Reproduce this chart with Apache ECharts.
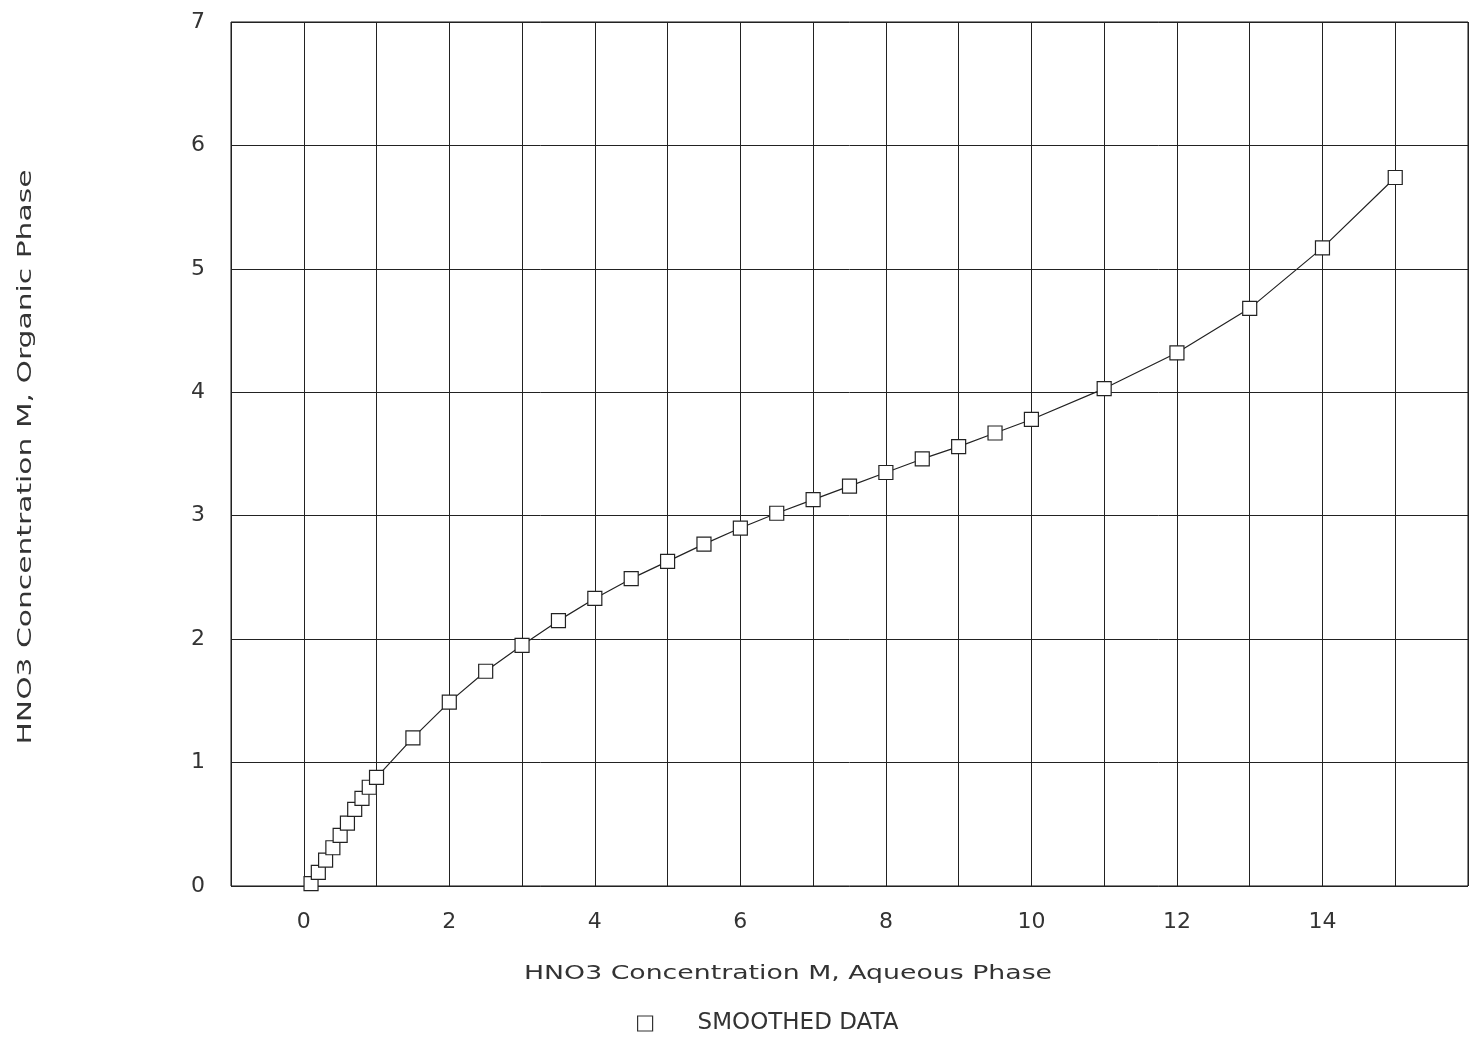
<!DOCTYPE html>
<html>
<head>
<meta charset="utf-8">
<script src="https://cdn.jsdelivr.net/npm/echarts@6/dist/echarts.min.js"></script>
<style>html,body{margin:0;padding:0;background:#fff}#c{width:1480px;height:1037px}</style>
</head>
<body>
<div id="c"></div>
<script>
const xValues = [0.1,0.2,0.3,0.4,0.5,0.6,0.7,0.8,0.9,1.0,1.5,2,2.5,3,3.5,4,4.5,5,5.5,6,6.5,7,7.5,8,8.5,9,9.5,10,11,12,13,14,15];
const yValues = [0.02,0.11,0.21,0.31,0.41,0.51,0.62,0.71,0.80,0.88,1.20,1.49,1.74,1.95,2.15,2.33,2.49,2.63,2.77,2.90,3.02,3.13,3.24,3.35,3.46,3.56,3.67,3.78,4.03,4.32,4.68,5.17,5.74];
const xTickLabels = [0,2,4,6,8,10,12,14];
const seriesName = 'SMOOTHED DATA';
const xTitle = 'HNO3 Concentration M, Aqueous Phase';
const yTitle = 'HNO3 Concentration M, Organic Phase';

const font = 'DejaVu Sans';
const txtColor = '#333';
const titleFont = '19px "DejaVu Sans"';
function measure(text, f) {
  const ctx = document.createElement('canvas').getContext('2d');
  ctx.font = f;
  return ctx.measureText(text).width;
}
const xScale = 528 / measure(xTitle, titleFont);
const yScale = 575 / measure(yTitle, titleFont);

const chart = echarts.init(document.getElementById('c'));
chart.setOption({
  animation: false,
  backgroundColor: '#fff',
  grid: {left: 231, right: 12, top: 22, bottom: 151, show: true, borderColor: '#111', borderWidth: 1},
  xAxis: {
    type: 'value', min: -1, max: 16, interval: 1,
    axisLine: {show: false}, axisTick: {show: false},
    splitLine: {show: true, lineStyle: {color: '#222', width: 1}},
    axisLabel: {
      margin: 25, fontFamily: font, fontSize: 22, color: txtColor,
      formatter: v => xTickLabels.includes(v) ? String(v) : ''
    }
  },
  yAxis: {
    type: 'value', min: 0, max: 7, interval: 1,
    axisLine: {show: false}, axisTick: {show: false},
    splitLine: {show: true, lineStyle: {color: '#222', width: 1}},
    axisLabel: {margin: 26, fontFamily: font, fontSize: 22, color: txtColor}
  },
  legend: {
    left: 632, top: 1007, itemWidth: 15, itemHeight: 15, itemGap: 10,
    icon: 'path://M0,0 L10,0 L10,10 L0,10 Z',
    data: [{name: seriesName, itemStyle: {color: 'transparent', borderColor: '#333', borderWidth: 1.2}}],
    textStyle: {fontFamily: font, fontSize: 23, color: txtColor, padding: [0, 0, 0, 40]}
  },
  graphic: [
    {type: 'text', x: 524, y: 974, scaleX: xScale, style: {text: xTitle, font: titleFont, fill: txtColor, verticalAlign: 'middle'}},
    {type: 'text', x: 26, y: 457, rotation: Math.PI / 2, scaleX: yScale, style: {text: yTitle, font: titleFont, fill: txtColor, align: 'center', verticalAlign: 'middle'}}
  ],
  series: [{
    name: seriesName, type: 'line',
    data: xValues.map((x, i) => [x, yValues[i]]),
    symbol: 'rect', symbolSize: 14,
    itemStyle: {color: '#fff', borderColor: '#222', borderWidth: 1.2},
    lineStyle: {color: '#222', width: 1.2},
    z: 5
  }]
});
</script>
</body>
</html>
